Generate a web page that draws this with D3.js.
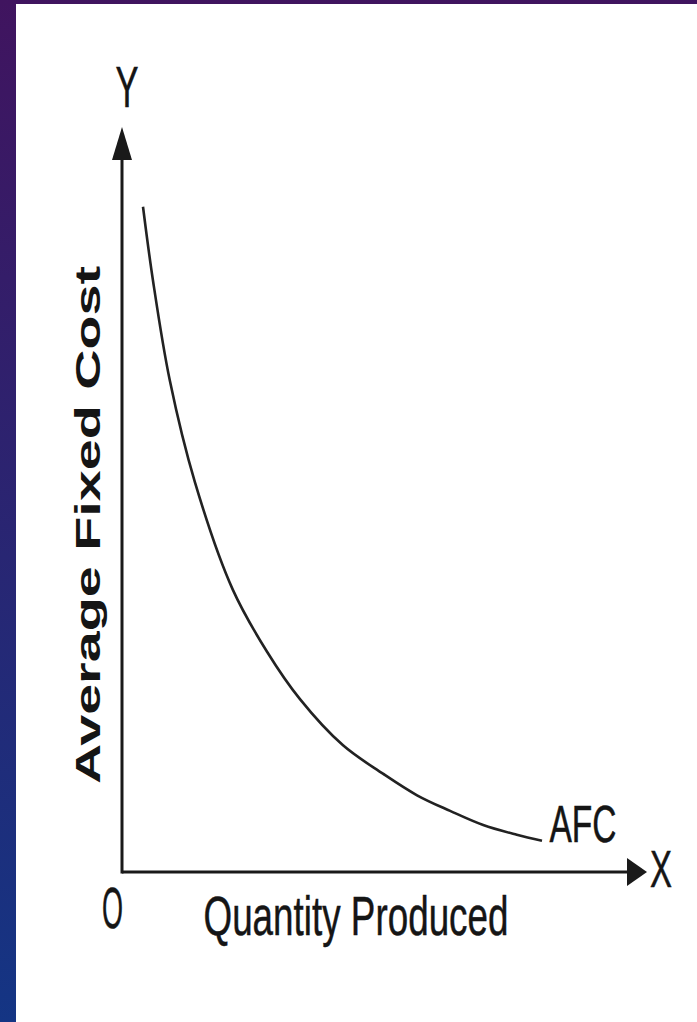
<!DOCTYPE html>
<html>
<head>
<meta charset="utf-8">
<script src="https://cdn.jsdelivr.net/npm/d3@7"></script>
<style>
  html, body { margin: 0; padding: 0; background: #fff; }
  svg { display: block; }
</style>
</head>
<body>
<svg id="chart" width="697" height="1022"></svg>
<script>
// ---- data ----
const quantity = [4.0, 5.9, 9.1, 13.9, 21.1, 27.6, 33.9, 42.1, 49.7, 56.2, 62.5, 68.8, 75.2, 80.0];
const afc      = [89.3, 79.4, 66.0, 52.3, 37.9, 29.6, 23.2, 17.0, 13.2, 10.3, 8.2, 6.3, 5.0, 4.2];
const curveLabel = "AFC";
const xAxisLabel = "Quantity Produced";
const yAxisLabel = "Average Fixed Cost";
const originLabel = "O";
const xName = "X";
const yName = "Y";

const svg = d3.select("#chart");
const W = 697, H = 1022;

// background gradient + white panel
const defs = svg.append("defs");
const grad = defs.append("linearGradient").attr("id", "bg")
  .attr("x1", 0).attr("y1", 0).attr("x2", 0).attr("y2", 1);
grad.append("stop").attr("offset", "0%").attr("stop-color", "#40145f");
grad.append("stop").attr("offset", "100%").attr("stop-color", "#143584");
svg.append("rect").attr("width", W).attr("height", H).attr("fill", "url(#bg)");
svg.append("rect").attr("x", 16).attr("y", 4).attr("width", W - 16).attr("height", H - 4).attr("fill", "#fff");

// scales
const x = d3.scaleLinear().domain([0, 100]).range([122, 647]);
const y = d3.scaleLinear().domain([0, 100]).range([872, 127]);

const ink = "#1a1a1a";
const arrowLen = 33, arrowHalf = 10;

// x axis (domain line only)
const gx = svg.append("g").attr("transform", `translate(0,${y(0)})`)
  .call(d3.axisBottom(x).tickValues([]).tickSizeOuter(0));
gx.select(".domain").attr("stroke", ink).attr("stroke-width", 3)
  .attr("d", `M${x(0)},0H${x(100) - 8}`);

// y axis (domain line only)
const gy = svg.append("g").attr("transform", `translate(${x(0)},0)`)
  .call(d3.axisLeft(y).tickValues([]).tickSizeOuter(0));
gy.select(".domain").attr("stroke", ink).attr("stroke-width", 3)
  .attr("d", `M0,${y(0) + 1.5}V${y(100) + arrowLen - 2}`);

// arrowheads
svg.append("path")
  .attr("d", `M${x(100)},${y(0)}L${x(100) - 20},${y(0) - 14}L${x(100) - 20},${y(0) + 14}Z`)
  .attr("fill", ink);
svg.append("path")
  .attr("d", `M${x(0)},${y(100)}L${x(0) - arrowHalf},${y(100) + arrowLen}L${x(0) + arrowHalf},${y(100) + arrowLen}Z`)
  .attr("fill", ink);

// AFC curve
const pts = quantity.map((q, i) => [q, afc[i]]);
const line = d3.line().x(d => x(d[0])).y(d => y(d[1])).curve(d3.curveCatmullRom.alpha(0.5));
svg.append("path").datum(pts).attr("d", line)
  .attr("fill", "none").attr("stroke", "#222").attr("stroke-width", 2.6);

// labels
const narrow = "'Liberation Sans Narrow', 'Arial Narrow', 'Liberation Sans', sans-serif";
function label(txt, cx, base, len, size) {
  return svg.append("text")
    .attr("x", cx).attr("y", base)
    .attr("text-anchor", "middle")
    .attr("font-family", narrow)
    .attr("font-size", size)
    .attr("fill", "#151515")
    .attr("stroke", "#151515")
    .attr("stroke-width", 0.5)
    .attr("textLength", len)
    .attr("lengthAdjust", "spacingAndGlyphs")
    .text(txt);
}
label(yName, x(0) + 5, 107, 23, 57);
label(xName, 661, 887, 22, 52);
label(originLabel, 112.5, 928, 21, 57);
label(xAxisLabel, 356, 935, 305, 56);
const last = pts[pts.length - 1];
label(curveLabel, x(last[0]) + 41, y(last[1]) + 1, 67, 52);

// rotated y axis title
svg.append("text")
  .attr("transform", "translate(100,525) rotate(-90)")
  .attr("text-anchor", "middle")
  .attr("font-family", "'Liberation Sans', Arial, sans-serif")
  .attr("font-weight", "bold")
  .attr("font-size", 35)
  .attr("fill", "#151515")
  .attr("textLength", 518)
  .attr("lengthAdjust", "spacingAndGlyphs")
  .text(yAxisLabel);
</script>
</body>
</html>
